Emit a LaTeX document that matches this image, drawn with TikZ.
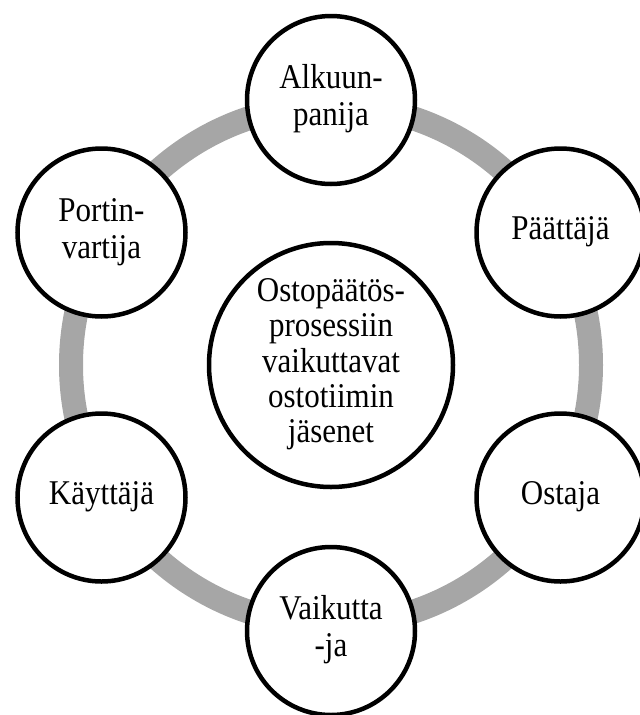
\documentclass[tikz,border=0pt]{standalone}
\usepackage{fontspec}
\usepackage{graphicx}
\setmainfont{Liberation Serif}
\definecolor{ringgray}{RGB}{166,166,166}
\newcommand{\tallstack}[1]{\scalebox{1}[1.12]{\begin{tabular}{@{}c@{}}#1\end{tabular}}}
\tikzset{
  member/.style={circle, draw=black, line width=4.5pt, fill=white, minimum size=168pt, inner sep=0pt, align=center, font=\fontsize{31}{33}\selectfont},
  hub/.style={circle, draw=black, line width=4.5pt, fill=white, minimum size=244pt, inner sep=0pt, align=center, font=\fontsize{31}{31.5}\selectfont},
  ring/.style={draw=ringgray, line width=24pt}
}
\begin{document}
\begin{tikzpicture}[x=1pt, y=-1pt]
\useasboundingbox (0,0) rectangle (640,715);
\clip (0,0) rectangle (640,715);
\coordinate (c) at (331,365);
\draw[ring] (c) circle[radius=260pt];
\node[hub] (hub) at (c) {\tallstack{Ostopäätös-\\prosessiin\\vaikuttavat\\ostotiimin\\jäsenet}};
\node[member] (alk) at (331,100) {\tallstack{Alkuun-\\panija}};
\node[member] (paat) at (560.5,232.5) {\tallstack{Päättäjä}};
\node[member] (ost) at (560.5,497.5) {\tallstack{Ostaja}};
\node[member] (vai) at (331,631) {\tallstack{Vaikutta\\-ja}};
\node[member] (kay) at (101.5,497.5) {\tallstack{Käyttäjä}};
\node[member] (por) at (101.5,232.5) {\tallstack{Portin-\\vartija}};
\end{tikzpicture}
\end{document}
